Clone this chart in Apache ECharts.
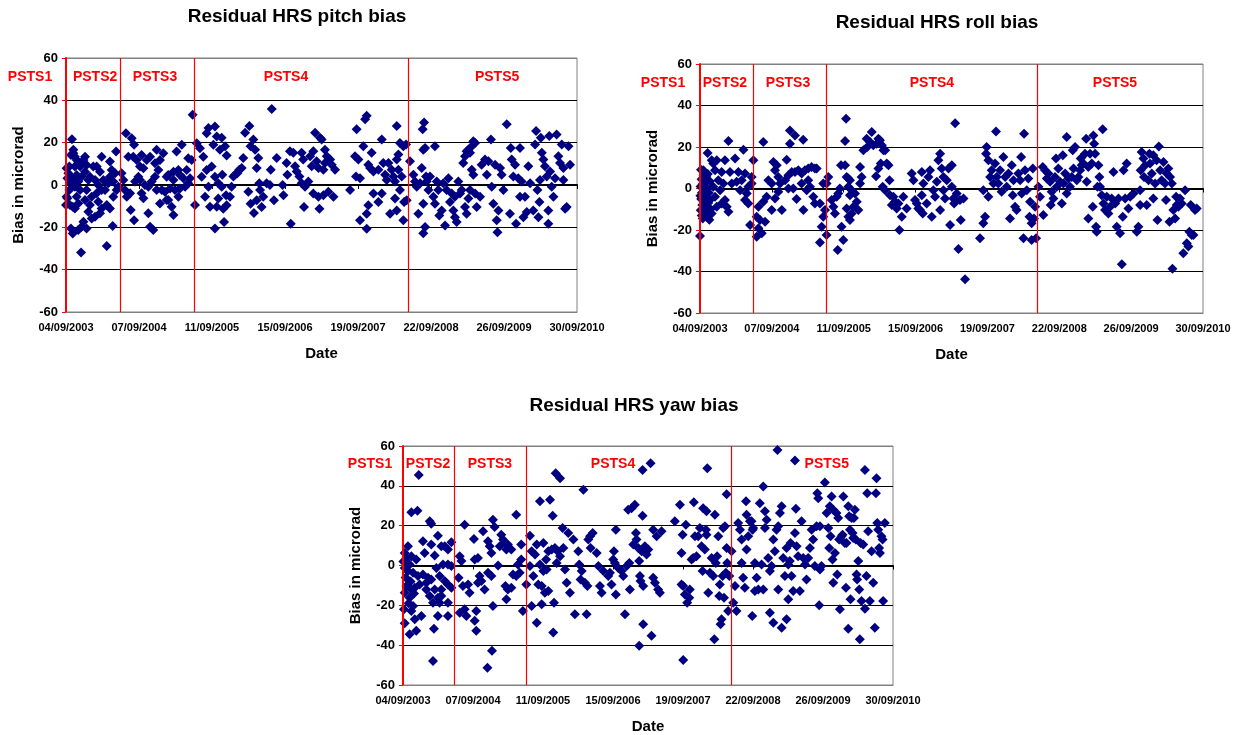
<!DOCTYPE html>
<html>
<head>
<meta charset="utf-8">
<title>Residual HRS bias</title>
<script src="https://cdn.jsdelivr.net/npm/echarts/dist/echarts.min.js"></script>
<style>
  html, body { margin: 0; padding: 0; background: #fff; }
  #chart { width: 1239px; height: 735px; }
</style>
</head>
<body>
<div id="chart"></div>
<script>
// Day offsets are counted from 04/09/2003; bias values are in microrad.
const START_DATE = Date.UTC(2003, 8, 4);
const TICK_DAYS = 369;
const AXIS_END_DAYS = 7 * TICK_DAYS;
const BIAS_MIN = -60;
const BIAS_MAX = 60;
const BIAS_STEP = 20;

// Start of each PSTS period (days from 04/09/2003)
const periodStarts = [0, 272, 648, 1730];
const periodNames = ['PSTS1', 'PSTS2', 'PSTS3', 'PSTS4', 'PSTS5'];

// [day, bias]
const pitchPoints = [
  [3,7.9],[12,5.5],[20,3.9],[7,3.2],[29,0.8],[17,-2.4],[3,-5.5],[20,-9.5],[34,-10.3],[25,-20.5],[34,-22.9],[30,21.6],[7,-6.3],[0,-9.5],[17,8.7],[25,14.2],[37,2.4],
  [37,16.6],[37,15],[45,13.4],[54,11.8],[62,10.3],[45,8.7],[71,8.7],[54,4.7],[79,3.9],[62,1.6],[45,-0.8],[71,-2.4],[54,-5.5],[62,-8.7],[45,-11.1],[79,-19.7],[62,-21.3],[88,-17.4],[76,-31.9],[88,11.8],
  [96,13.4],[104,9.5],[96,6.3],[121,3.9],[113,2.4],[104,-2.4],[130,-5.5],[96,-7.1],[121,-9.5],[113,-12.6],[130,-15.8],[104,-20.5],[138,8.7],
  [180,13.4],[155,8.7],[172,6.3],[147,2.4],[163,0],[180,-2.4],[155,-3.9],[163,-7.9],[180,-11.1],[172,-13.4],[147,-15],[189,2.4],
  [206,-28.8],[236,-19.4],[253,15.8],[222,11.1],[231,7.1],[248,5.5],[222,3.9],[214,0.8],[239,1.6],[256,-2.4],[265,-0.8],[197,-2.4],[206,-9.5],[222,-11.1],[239,-5.5],
  [303,24.5],[332,22.1],[344,19],[315,13.4],[340,13.4],[357,11.8],[290,2.4],[298,-2.4],[324,-3.9],[327,-11.8],[344,-16.6],[307,-5.5],[281,5.5],[349,1.6],
  [382,14.2],[374,8.7],[391,7.9],[408,11.8],[425,13.4],[433,1.6],[416,-0.8],[374,2.4],[382,-3.9],[391,-6.3],[416,-13.4],[425,-19.7],[441,-21.3],[366,3.9],[399,0],
  [458,16.6],[475,11.8],[450,10.3],[492,15],[467,7.1],[458,-2.4],[484,-2.4],[500,-3.2],[509,-7.1],[517,-7.1],[475,-8.7],[450,3.9],[509,3.9],[517,4.7],
  [543,6.3],[534,-10.3],[543,-14.2],[559,15.8],[585,19],[568,7.1],[576,4.7],[593,3.2],[610,7.1],[618,12.6],[627,3.2],[635,11.8],[551,-2.4],[568,-5.5],[602,-0.8],[576,-1.6],[618,0.8],[543,2.4],[526,-1.6],
  [640,33.2],[652,-9.5],[661,19.7],[694,13.4],[711,24.5],[720,26.9],[753,27.6],[745,19],[711,7.1],[720,-0.8],[703,-5.5],[728,-10.3],[753,-20.5],[753,3.9],[770,0.8],[762,-10.3],[736,8.7],[677,17.4],[686,3.9],[762,22.9],
  [778,16.7],[787,22.3],[804,18.3],[812,13.9],[790,4.8],[787,-0.8],[770,-6.4],[809,-4.8],[812,-9.6],[795,-11.2],[799,-17.5],[829,-5.6],[837,-0.8],[846,4],[854,4.8],[866,5.6],[876,7.2],[888,8],[896,12.8],[905,24.7],[927,27.9],[933,18.3],[922,-3.2],[933,-8.8],[950,-13.2],[964,-7.2],[947,21.5],[956,16.7],[972,12.8],[964,8],[977,0.8],[981,-2.4],[989,-10.4],[997,-5.6],[1014,0.8],[1031,0],[1040,35.9],[1035,7.2],[1051,-7.2],[1065,12.8],[1095,0],[1099,-4.8],[1115,10.4],[1119,4.8],[1136,-18.3],[1132,16],[1149,15.2],[1158,8.8],[1166,6.4],[1180,4],[1191,15.2],[1199,12],[1191,0.8],[1208,-0.8],[1203,-10.4],[1225,1.6],
  [1259,24.7],[1284,22.3],[1250,16],[1234,13.6],[1267,11.2],[1242,8.8],[1276,8],[1309,16.7],[1318,13.6],[1335,12],[1343,9.6],[1301,7.2],[1309,10.4],[1360,7.2],[1250,-4],[1276,-5.6],[1301,-4.8],[1326,-3.2],[1352,-5.6],[1281,-11.2],[1292,21.5],
  [1436,-2.4],[1469,26.3],[1461,13.6],[1478,12],[1466,4],[1486,3.2],[1503,18.3],[1512,31.1],[1520,32.7],[1545,15.2],[1528,9.6],[1537,8],[1554,6.4],[1579,7.2],[1596,21.5],[1604,10.4],[1613,4.8],[1621,2.4],[1630,10.4],[1646,7.2],[1672,27.9],[1688,19.9],[1705,18.3],[1719,19.1],[1680,14.4],[1672,12],[1655,4],[1663,1.6],[1680,7.2],[1697,4],[1486,-16.7],[1520,-20.7],[1520,-13.6],[1528,-9.6],[1554,-4],[1579,-8],[1596,-4],[1638,-13.6],[1672,-12],[1663,-6.4],[1705,-16.7],[1709,-8],[1722,-7.2],[1688,-2.4],
  [1739,11.2],[1756,4.8],[1764,1.6],[1773,-0.8],[1781,-13.6],[1790,0.8],[1798,8],[1803,26.3],[1810,29.5],[1806,16.7],[1815,17.5],[1820,4],[1823,1.6],[1806,-8.8],[1815,-19.9],[1806,-22.8],[1832,-2.4],[1840,4],[1857,-5.6],[1865,18.3],[1865,-8.8],[1874,1.6],[1882,-2.4],[1887,-14.4],[1899,-12],[1907,0.8],[1916,-19.1],[1924,-2.4],[1933,3.2],[1941,-8],[1950,-4],[1958,-12],[1966,-15.2],[1975,-17.5],[1966,-5.6],[1983,1.6],[1992,-4],[2000,-2.4],
  [2008,10.4],[2017,13.6],[2025,16],[2034,16.7],[2042,15.2],[2051,18.3],[2059,20.7],[2068,19.9],[2017,-10.4],[2025,-13.6],[2034,-6.4],[2042,-2.4],[2051,7.2],[2059,4.8],[2068,-4],[2076,-10.4],[2093,-5.6],[2101,9.6],[2118,12],[2127,4.8],[2135,11.2],[2148,21.5],[2152,-0.8],[2160,-8.8],[2169,9.6],[2177,-16.7],[2181,-22.3],[2186,-12],[2194,8],[2202,4.8],[2211,-2.4],
  [2228,28.7],[2244,-13.6],[2248,17.5],[2253,12],[2261,4],[2270,9.6],[2275,-18.3],[2286,3.2],[2295,17.5],[2295,-5.6],[2303,1.6],[2312,-15.2],[2320,-5.6],[2329,-12.8],[2337,8.8],[2346,0.8],[2362,-12],[2371,19.1],[2376,25.5],[2383,-2.4],[2388,-15.2],[2393,-8],[2396,2.4],[2400,22.3],[2405,15.2],[2413,12],[2421,8.8],[2430,4],[2438,-18.3],[2438,-12],[2443,23.1],[2447,6.4],[2455,-0.8],[2464,-5.6],[2472,3.2],[2480,23.9],[2489,13.6],[2497,10.4],[2506,19.1],[2514,8],[2523,-11.2],[2531,-10.4],[2540,18.3],[2548,9.6],[2514,2.4]
];

const rollPoints = [
  [0,-22.9],[5,9],[8,4.5],[3,1],[10,-2],[6,-5],[12,-8],[4,-10.5],[9,-13],[14,-14.5],[2,-3.5],[16,2.5],[18,6],[20,-6],[22,-11],[24,-1],[27,3],[30,-9],[32,5.5],[39,17.1],[17,8.8],[28,-4],[34,-12.5],[36,0],[40,7],[42,-7],[45,-2],[48,-15],[50,3.5],[55,-10],
  [68,12],[86,13.6],[77,8.8],[128,13.6],[146,22.9],[111,8],[94,4],[120,2.4],[103,-0.8],[128,-5.6],[111,-7.2],[137,-8.8],[146,-11.2],[77,-4],[86,-8.8],[60,-12],[51,-5.6],[68,0.8],[60,13.6],
  [180,14.4],[223,18.7],[197,8],[154,8],[231,7.2],[214,4],[188,3.2],[163,2.4],[206,-0.8],[248,0.8],[240,-2.4],[231,-5.6],[248,-7.2],[265,2.4],[274,13.6],[257,-17.6],[265,5.6],
  [291,-23.2],[300,-19.2],[317,-21.6],[308,-15.2],[334,-16],[291,-13.6],[300,-8.8],[325,-6.4],[342,-4],[351,4],[368,2.4],[377,12.8],[385,8.8],[394,11.2],[368,-10.4],[385,-4.8],[402,-1.6],[411,2.4],[420,-10.4],[325,22.4],[402,5.6],
  [445,13.9],[462,28],[488,25.6],[462,21.6],[530,23.5],[437,4],[454,6.4],[471,8],[488,8],[505,8.8],[522,7.2],[539,8.8],[556,9.6],[573,10.4],[590,9.6],[496,-5.1],[454,0],[479,0],[522,2.4],[531,-10.4],[548,-0.8],[565,0.8],[582,-4],[590,-7.2],[556,4],[599,9.6],
  [616,-26],[625,-18.4],[633,-13.6],[616,-7.2],[642,-10.4],[650,-22.4],[650,2.4],[659,5.6],[633,2.4],[676,-5.6],[685,-8.8],[693,-12],[702,-4],[710,-2.4],[707,-29.6],[718,0],[727,-18.4],[736,-24.8],[724,11.2],
  [750,33.6],[745,22.9],[745,11.2],[753,5.6],[762,4.8],[770,4],[762,0.8],[779,-0.8],[770,-3.2],[753,-9.6],[762,-13.6],[770,-15.2],[779,-12],[788,-8.8],[796,-2.4],[805,-6.4],[813,-10.4],[822,2.4],[830,5.6],[822,10.4],[839,18.4],[856,24],[873,22.4],[882,27.2],[859,20],[890,20.8],[907,21.6],[916,24],[924,23.2],[934,20.8],[942,18.4],[951,18.4],[904,5.9],[916,9.6],[928,12],[938,0.8],[951,-0.8],[959,12],[968,11.2],[973,4],[976,-3.2],[985,-8],[993,-4],[1002,-6.4],[1010,-9.6],[1019,-7.2],[1024,-20],[1036,-13.6],[1044,-4],[1061,-9.6],[1087,7.2],[1096,4],[1104,-5.6],[1113,-7.2],[1121,-9.6],[1130,-10.4],
  [1139,8],[1147,2.4],[1139,-3.2],[1144,-12],[1164,-7.2],[1173,5.6],[1181,8.8],[1190,-13.6],[1198,-0.8],[1207,-4],[1216,3.2],[1224,13.6],[1233,16.8],[1233,-10.4],[1241,9.6],[1250,5.6],[1250,-0.8],[1258,-4.8],[1267,4],[1276,9.6],[1284,-17.6],[1293,11.2],[1293,0.8],[1301,-4.8],[1305,-7.2],[1310,31.5],[1318,-2.4],[1327,-29.1],[1335,-5.6],[1339,-15.2],[1353,-4.8],[1361,-43.7],
  [1438,-24],[1455,-16.8],[1464,-13.6],[1455,-0.8],[1469,16.8],[1472,20],[1481,13.6],[1481,-4],[1490,5.6],[1498,8.8],[1507,2.4],[1515,12],[1520,27.5],[1524,5.6],[1532,2.4],[1541,8.8],[1549,-1.6],[1558,15.2],[1567,5.6],[1575,0.8],[1584,7.2],[1592,-14.4],[1601,11.2],[1606,-3.2],[1610,4],[1618,-8.8],[1626,-10.4],[1635,7.2],[1644,4],[1649,15.2],[1652,-2.4],[1661,-24],[1664,26.4],[1669,8.8],[1678,-0.8],[1686,4.8],[1692,-13.6],[1695,-6.4],[1703,-16.8],[1703,-24.8],[1709,9.6],[1715,-14.4],[1721,-8.8],[1726,-24],
  [1738,0.8],[1746,-4],[1760,10.4],[1763,-12.8],[1772,8.8],[1781,4.8],[1789,7.2],[1798,3.2],[1801,-8],[1806,-1.6],[1815,-4.8],[1823,5.6],[1828,14.4],[1832,0.8],[1840,9.6],[1849,3.2],[1858,-7.2],[1863,16],[1866,2.4],[1875,7.2],[1883,24.8],[1883,-2.4],[1892,4.8],[1900,0.8],[1909,5.6],[1914,18.4],[1918,9.6],[1926,20],[1935,4],[1943,5.6],[1952,8.8],[1955,14.4],[1960,11.2],[1969,12],[1977,16.8],[1983,24],[1986,3.2],[1994,-14.4],[1994,10.4],
  [2003,16.8],[2012,12],[2017,-8.8],[2020,25.6],[2024,21.6],[2029,16.8],[2034,-18.4],[2037,-20.8],[2041,0.8],[2046,11.2],[2051,5.6],[2054,0.8],[2063,-3.2],[2068,28.5],[2072,-7.2],[2080,-10.4],[2089,-4],[2097,-12],[2106,-8.8],[2114,-4.8],[2123,8],[2132,-7.2],[2140,-18.4],[2149,-4.8],[2157,-21.6],[2166,-36.5],[2171,-13.6],[2175,8.8],[2183,-4.8],[2191,12],[2200,-9.6],[2209,-4],[2226,-2.4],
  [2243,-20.8],[2251,-18.4],[2260,-0.8],[2260,-8],[2263,8.8],[2268,17.6],[2277,14.4],[2280,5.6],[2286,11.2],[2294,-8],[2303,4],[2308,16.8],[2311,12],[2320,7.2],[2328,16],[2328,-4.8],[2337,2.4],[2345,13.6],[2349,-15.2],[2356,20.3],[2363,8.8],[2371,4],[2380,12.8],[2388,2.4],[2393,-5.6],[2397,7.2],[2405,9.6],[2411,-16],[2414,5.6],[2423,2.4],[2426,-38.7],[2431,-10.4],[2440,-14.4],[2445,-4],[2448,-8],[2457,-8.8],[2465,-4.8],[2474,-7.2],[2482,-31.2],[2491,-0.8],[2500,-26.4],[2508,-28],[2513,-20.8],[2520,-8],[2525,-22.4],[2534,-22.4],[2542,-10.4],[2551,-9.6]
];

const yawPoints = [
  [83,45.5],[44,26.7],[76,27.5],[141,22.2],[149,21],[105,12.2],[184,15],[149,10.5],[202,9.7],[220,9.7],[255,11.7],[114,6.3],[167,5],[237,8],[26,9.7],[9,6.3],[18,3.8],[44,4.7],[70,3],[35,0.5],[9,-1.2],[26,-2.8],[53,-3.7],[79,-5.3],[105,-4.5],[132,-6.2],[123,-8.7],[149,-7],[88,-9.5],[62,-11.2],[44,-12],[18,-10.3],[9,-13.7],[35,-16.2],[53,-20.3],[44,-22.8],[62,-27],[9,-29],[35,-34.5],[70,-32.8],[97,-25.3],
  [158,-18.7],[184,-16.2],[193,-18.7],[202,-15.3],[237,-18.7],[184,-25.3],[237,-25.3],[163,-31.7],[158,-48],[237,0.5],[255,-0.3],[193,-5.3],[220,-7.8],[237,-9.5],[255,-11.2],[141,-15.3],[123,-12],[167,-12],[202,-12],[211,0.5],[176,-1.2],[2,2],[14,-6],[30,-19],[5,-22],[58,-14],[40,-8],[22,1],
  [325,20.5],[299,4.7],[308,2.2],[293,-6.2],[316,-10.3],[343,-9.5],[351,-13.7],[299,-23.7],[325,-22],[334,-25.3],[374,13.3],[378,3],[395,3.8],[404,-5.3],[395,-8.7],[413,-7.8],[430,-12],[378,-27.8],[386,-32.8],[386,-22.8],[422,17.2],[448,12.2],[457,9.7],[466,6.3],[474,23],[483,19.3],[448,-3.7],[466,-5.3],[474,-20.3],[469,-42.8],[445,-51.3],
  [501,0],[510,9.7],[518,15.5],[527,13],[536,11.3],[545,8],[553,10.5],[571,8],[540,-10.3],[553,-12],[571,-11.2],[545,-17],[580,-4.5],[597,25.5],[597,-5.3],[623,10.5],[623,3],[632,-22.8],[650,-9.5],[615,-3.7],[606,0.5],
  [669,15],[678,7.2],[669,-0.3],[687,-5.3],[678,-20.3],[696,5.5],[705,10.5],[705,-28.7],[713,-9.5],[722,32.2],[722,0.5],[731,-10.3],[731,-19.5],[740,11.3],[740,-2.8],[748,-13.7],[754,3],[757,-2],[766,7.2],[766,-12.8],[775,33],[784,8],[789,25],[792,-33.7],[796,-18.7],[801,8.8],[805,46.3],[810,1.3],[815,7.2],[828,43.8],[828,4.7],[841,18.8],[845,8.8],[854,-2],[863,-8.7],[871,16.3],[880,-13.7],[898,13],[906,-24.5],[924,7.2],[929,0.5],[936,-7],[942,-2.8],[951,38],[959,-8.7],[968,-24.5],[972,-10.3],[977,13],[986,14.7],[989,8.8],[1000,16.3],[1021,6.3],[1030,-0.3],[1038,-10.3],
  [1047,-13.7],[1056,-2.8],[1082,-5.3],[1091,-3.7],[1099,-9.5],[1108,3],[1112,7.2],[1117,1.3],[1122,18],[1122,-14.5],[1135,-1.2],[1152,-2.8],[1161,-5.3],[1170,-24.5],[1179,-0.3],[1187,28],[1193,1.3],[1196,-12],[1205,28.8],[1214,10.5],[1222,30.5],[1228,16.3],[1231,13],[1240,8.8],[1245,2.2],[1249,-5.3],[1252,-7.8],[1258,7.2],[1263,25],[1266,-10.3],[1266,-29.5],[1245,-40.3],[1263,48],[1275,9.7],[1284,5.5],[1293,8],[1305,51.3],[1310,-35.3],[1319,18],[1319,-6.2],[1328,-8.7],[1337,14.7],[1345,-12],[1354,-13.7],[1363,17.2],
  [1433,22.2],[1460,30.5],[1468,6.3],[1474,15.5],[1468,-9.5],[1477,-10.3],[1486,-14.5],[1491,20.5],[1477,-47.5],[1498,-18.7],[1509,-16.2],[1512,-12],[1521,3],[1530,3.8],[1533,31.7],[1539,14.7],[1547,4.7],[1556,14.7],[1565,18.8],[1574,9.7],[1579,-2.8],[1582,28.8],[1591,8],[1597,18],[1600,27.2],[1600,15.5],[1604,48.8],[1609,-13.7],[1618,-3.7],[1627,3.8],[1635,-5.3],[1641,-37],[1644,25.5],[1649,1.3],[1656,4.7],[1662,14.7],[1667,-15.3],[1670,-9.5],[1674,-29.5],[1679,-27],[1685,-5.3],[1688,18.8],[1692,-16.2],[1697,19.7],[1702,-3.7],[1706,35.8],[1706,8.8],[1709,1.3],[1714,-22.8],[1720,-5.3],
  [1732,7.2],[1741,-18.7],[1750,-10.3],[1758,-22.8],[1767,21.3],[1776,18],[1785,1.3],[1785,13],[1793,-6.2],[1802,-11.2],[1808,32.2],[1811,25.5],[1811,8],[1820,14.7],[1829,22.2],[1837,22.2],[1843,18],[1846,18.8],[1841,-25.3],[1855,-12.8],[1855,1.3],[1864,-6.2],[1873,-12],[1881,31.3],[1890,0.5],[1899,39.7],[1899,-12],[1908,27.2],[1908,18.8],[1917,23],[1925,3.8],[1934,-23.7],[1934,-2.8],[1943,-0.3],[1952,-28.7],[1952,13],[1960,7.2],[1969,18],[1974,58],[1978,-12],[1978,19.7],[1987,26.3],[1996,-31.2],[1996,29.7],
  [2004,3.8],[2013,-5.3],[2022,-27],[2022,8.8],[2031,-17],[2031,0.5],[2039,2.2],[2043,11.3],[2048,-5.3],[2057,-12.8],[2066,52.7],[2066,16.3],[2071,28.5],[2075,9.7],[2083,4.7],[2092,-12.8],[2101,22.2],[2110,3.8],[2119,0.5],[2127,-7],[2136,3.8],[2145,8.8],[2154,18],[2162,13],[2171,-0.3],[2180,19.7],[2184,36.3],[2189,33.8],[2194,-20],[2198,-2],[2198,19.7],[2206,-0.3],
  [2224,41.7],[2233,26.3],[2242,18.8],[2247,8.8],[2250,29.7],[2254,14.7],[2259,34.7],[2264,3],[2268,28],[2268,-8.7],[2277,6.3],[2285,26.3],[2289,-4.5],[2294,23.8],[2299,13],[2303,-22],[2312,14.7],[2317,15.5],[2321,34.7],[2329,11.3],[2335,-11.2],[2338,11.3],[2347,29.7],[2347,-31.7],[2352,24.7],[2356,18],[2359,-17],[2365,23.8],[2370,16.3],[2373,13.8],[2377,23.8],[2382,28],[2387,13],[2391,-4.5],[2394,-7],[2400,2.2],[2405,-12],[2408,-37],[2412,11.3],[2417,-17.8],[2426,10.5],[2435,48],[2435,-21.7],[2443,-5.3],[2447,36.3],[2452,17.2],[2461,-17.8],[2470,7.2],[2479,-8.7],[2487,-31.2],[2493,36.3],[2496,43.8],[2500,21.3],[2505,18],[2510,8.8],[2514,6.3],[2522,14.7],[2528,13],[2531,-17.8],[2540,21.3]
];

// Where each PSTS name sits along the time axis (days), and its height (microrad)
const pitchLabelDays = [-182, 147, 450, 1112, 2179];
const rollLabelDays = [-190, 128, 452, 1191, 2131];
const yawLabelDays = [-174, 132, 458, 1107, 2234];
const LABEL_BIAS = 51;

const FONT = '"Liberation Sans", Arial, Helvetica, sans-serif';

const panels = [
  { title: 'Residual HRS pitch bias', points: pitchPoints, labelDays: pitchLabelDays,
    grid: { left: 66, top: 58, width: 511, height: 254 }, titleAt: [297, 17] },
  { title: 'Residual HRS roll bias', points: rollPoints, labelDays: rollLabelDays,
    grid: { left: 700, top: 64, width: 503, height: 249 }, titleAt: [937, 23] },
  { title: 'Residual HRS yaw bias', points: yawPoints, labelDays: yawLabelDays,
    grid: { left: 403, top: 446, width: 490, height: 241 }, titleAt: [634, 406] }
];

function pad2(n) { return (n < 10 ? '0' : '') + n; }
function dayLabel(v) {
  const d = new Date(START_DATE + Math.round(v) * 86400000);
  return pad2(d.getUTCDate()) + '/' + pad2(d.getUTCMonth() + 1) + '/' + d.getUTCFullYear();
}

const grids = [], xAxes = [], yAxes = [], series = [];
const splitColors = [];
for (let v = BIAS_MIN; v <= BIAS_MAX; v += BIAS_STEP) {
  splitColors.push(v === BIAS_MIN || v === BIAS_MAX ? '#808080' : '#000000');
}

panels.forEach((p, i) => {
  grids.push(Object.assign({ show: true, borderColor: '#808080', borderWidth: 1, backgroundColor: '#ffffff' }, p.grid));

  // dated axis along the bottom of the plot
  xAxes.push({
    type: 'value', gridIndex: i, min: 0, max: AXIS_END_DAYS, interval: TICK_DAYS, position: 'bottom',
    axisLine: { show: true, onZero: false, lineStyle: { color: '#808080', width: 1 } },
    axisTick: { show: false },
    splitLine: { show: false },
    axisLabel: { formatter: dayLabel, fontSize: 11, fontWeight: 'bold', color: '#000', fontFamily: FONT, margin: 10 },
    name: 'Date', nameLocation: 'middle', nameGap: 34,
    nameTextStyle: { fontSize: 15, fontWeight: 'bold', color: '#000', fontFamily: FONT }
  });
  // heavy zero line with small ticks
  xAxes.push({
    type: 'value', gridIndex: i, min: 0, max: AXIS_END_DAYS, interval: TICK_DAYS, position: 'top',
    axisLine: { show: true, onZero: true, lineStyle: { color: '#000', width: 2 } },
    axisTick: { show: true, inside: true, length: 4, lineStyle: { color: '#000', width: 1 } },
    axisLabel: { show: false },
    splitLine: { show: false }
  });

  yAxes.push({
    type: 'value', gridIndex: i, min: BIAS_MIN, max: BIAS_MAX, interval: BIAS_STEP,
    axisLine: { show: true, onZero: false, lineStyle: { color: '#ff0000', width: 2 } },
    axisTick: { show: true, length: 4, lineStyle: { color: '#ff0000', width: 1 } },
    axisLabel: { fontSize: 13, fontWeight: 'bold', color: '#000', fontFamily: FONT, margin: 8 },
    splitLine: { show: true, lineStyle: { color: splitColors, width: 1 } },
    name: 'Bias in microrad', nameLocation: 'middle', nameGap: 40, nameRotate: 90,
    nameTextStyle: { fontSize: 15, fontWeight: 'bold', color: '#000', fontFamily: FONT }
  });

  series.push({
    type: 'scatter', xAxisIndex: i * 2, yAxisIndex: i,
    data: p.points,
    symbol: 'diamond', symbolSize: 10,
    itemStyle: { color: '#000080', opacity: 1 },
    emphasis: { disabled: true },
    markLine: {
      silent: true, symbol: ['none', 'none'], animation: false,
      label: { show: false },
      data: periodStarts.map((d, k) => ({
        xAxis: d,
        lineStyle: { color: '#ff0000', type: 'solid', width: k === 0 ? 2 : 1.2 }
      }))
    }
  });
});

const chart = echarts.init(document.getElementById('chart'), null, { renderer: 'canvas' });
chart.setOption({
  animation: false,
  backgroundColor: '#ffffff',
  grid: grids,
  xAxis: xAxes,
  yAxis: yAxes,
  series: series
});

// Titles and PSTS period names
const texts = [];
panels.forEach((p, i) => {
  texts.push({
    type: 'text', x: p.titleAt[0], y: p.titleAt[1], silent: true,
    style: { text: p.title, font: 'bold 19px ' + FONT, fill: '#000',
             align: 'center', verticalAlign: 'middle', textAlign: 'center', textVerticalAlign: 'middle' }
  });
  p.labelDays.forEach((d, k) => {
    const pt = chart.convertToPixel({ seriesIndex: i }, [d, LABEL_BIAS]);
    texts.push({
      type: 'text', x: pt[0], y: pt[1], silent: true, z: 10,
      style: { text: periodNames[k], font: 'bold 14px ' + FONT, fill: '#ff0000',
               align: 'center', verticalAlign: 'middle', textAlign: 'center', textVerticalAlign: 'middle' }
    });
  });
});
chart.setOption({ graphic: texts });
</script>
</body>
</html>
